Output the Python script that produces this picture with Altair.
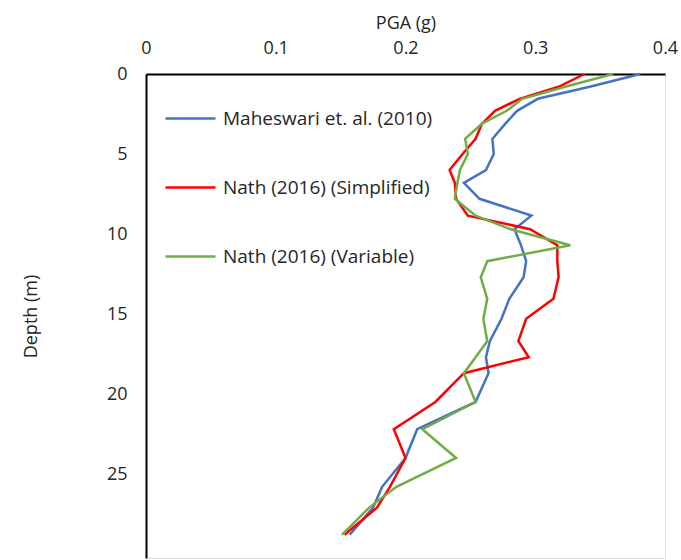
import altair as alt
import pandas as pd

depth = [0, 0.8, 1.55, 2.3, 3.1, 4.05, 5.0, 6.0, 6.8, 7.8, 8.85, 9.7, 10.7, 11.7,
         12.7, 14.05, 15.3, 16.7, 17.7, 18.7, 20.5, 22.2, 24.0, 25.8, 27.1, 28.8]

maheswari = [0.381, 0.342, 0.302, 0.286, 0.277, 0.267, 0.268, 0.262, 0.245, 0.257,
             0.297, 0.284, 0.289, 0.293, 0.291, 0.280, 0.274, 0.265, 0.262, 0.264,
             0.254, 0.209, 0.200, 0.182, 0.175, 0.157]
nath_simplified = [0.338, 0.318, 0.288, 0.269, 0.259, 0.254, 0.244, 0.234, 0.238, 0.239,
                   0.248, 0.296, 0.317, 0.317, 0.318, 0.314, 0.293, 0.287, 0.295, 0.245,
                   0.223, 0.191, 0.200, 0.188, 0.178, 0.153]
nath_variable = [0.360, 0.323, 0.290, 0.278, 0.259, 0.246, 0.248, 0.242, 0.240, 0.238,
                 0.254, 0.281, 0.327, 0.263, 0.258, 0.263, 0.260, 0.263, 0.254, 0.245,
                 0.254, 0.213, 0.239, 0.193, 0.172, 0.151]

series_names = ["Maheswari et. al. (2010)", "Nath (2016) (Simplified)", "Nath (2016) (Variable)"]
series_colors = ["#4472C4", "#FF0000", "#70AD47"]
x_ticks = [0, 0.1, 0.2, 0.3, 0.4]
y_ticks = [0, 5, 10, 15, 20, 25]

rows = []
for name, vals in zip(series_names, [maheswari, nath_simplified, nath_variable]):
    for d, v in zip(depth, vals):
        rows.append({"series": name, "depth": d, "pga": v})
df = pd.DataFrame(rows)

FONT = "Open Sans"
TXT = "#262626"

chart = alt.Chart(df).mark_line(strokeWidth=2.5).encode(
    x=alt.X("pga:Q", title="PGA (g)",
            scale=alt.Scale(domain=[0, 0.4], nice=False),
            axis=alt.Axis(orient="top", values=x_ticks, format="~g", grid=False,
                          ticks=False, tickSize=0, labelPadding=17, titlePadding=7,
                          labelFlush=False, labelOverlap=False,
                          domainColor="black", domainWidth=2,
                          labelFontSize=18, titleFontSize=18, labelFont=FONT, titleFont=FONT,
                          labelColor=TXT, titleColor=TXT, titleFontWeight="normal")),
    y=alt.Y("depth:Q", title="Depth (m)",
            scale=alt.Scale(domain=[0, 30.25], nice=False, reverse=True),
            axis=alt.Axis(values=y_ticks, grid=False, ticks=False, tickSize=0,
                          labelPadding=19, titlePadding=66,
                          labelFlush=False, labelOverlap=False,
                          domainColor="black", domainWidth=2,
                          labelFontSize=18, titleFontSize=18, labelFont=FONT, titleFont=FONT,
                          labelColor=TXT, titleColor=TXT, titleFontWeight="normal")),
    color=alt.Color("series:N",
                    scale=alt.Scale(domain=series_names, range=series_colors),
                    legend=alt.Legend(title=None, orient="none", legendX=18, legendY=18,
                                      symbolType="stroke", symbolSize=2500, symbolStrokeWidth=2.5,
                                      labelFontSize=19, labelFont=FONT, labelColor=TXT,
                                      labelLimit=0, rowPadding=32, labelOffset=6)),
    order=alt.Order("depth:Q"),
).properties(
    width=519, height=484,
    autosize=alt.AutoSizeParams(type="none"),
    padding={"left": 146, "top": 74, "right": 16, "bottom": 2},
).configure_view(stroke=None).configure(background="white")

chart.save("out.html", embed_options={"renderer": "svg", "actions": False})
